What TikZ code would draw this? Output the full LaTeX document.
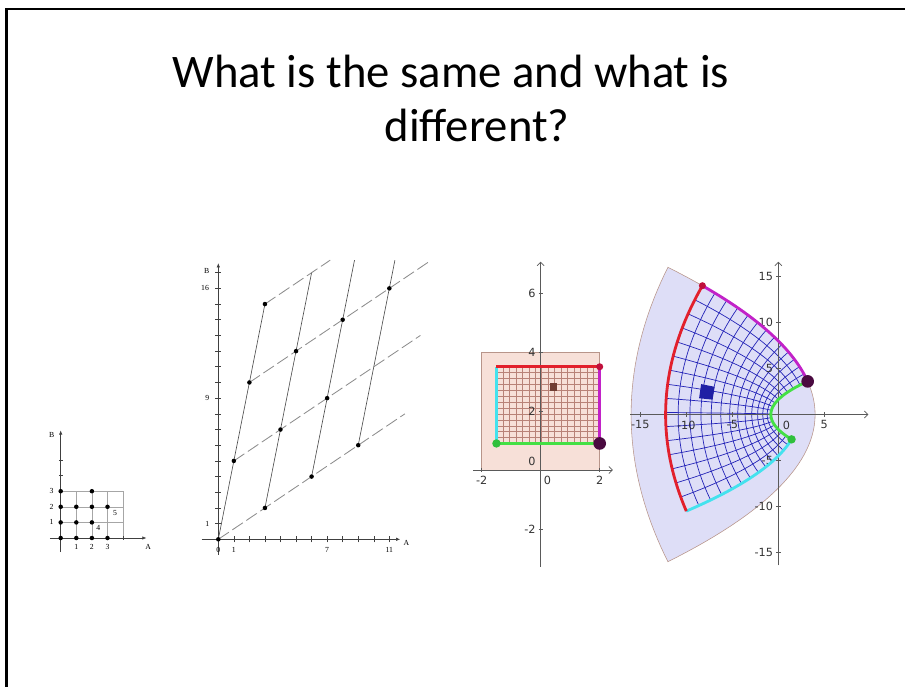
\documentclass[tikz,border=0pt]{standalone}
\usepackage{fontspec}
\setmainfont{Carlito}
\newfontfamily\plotserif{Liberation Serif}
\newfontfamily\ggbfont{DejaVu Sans}
\usetikzlibrary{arrows.meta}
\definecolor{RectPink}{HTML}{F7E0D8}
\definecolor{RegionLav}{HTML}{DEDEF7}
\definecolor{GridBrown}{HTML}{A0584A}
\definecolor{GridBlue}{HTML}{2424B8}
\definecolor{EdgeRed}{HTML}{E2202C}
\definecolor{EdgeCyan}{HTML}{44E2EE}
\definecolor{EdgeGreen}{HTML}{44E044}
\definecolor{EdgeMag}{HTML}{C222C8}
\definecolor{DotRed}{HTML}{C0103C}
\definecolor{DotPurple}{HTML}{4A0A40}
\definecolor{DotGreen}{HTML}{30C03C}
\definecolor{AxisGray}{HTML}{5A5A5A}
\definecolor{BorderBrown}{HTML}{B8958A}

\begin{document}
\begin{tikzpicture}[x=0.025cm,y=0.025cm,
  ax/.style={line width=0.5pt,black!75,-{Latex[length=3pt,width=2.5pt]}},
  tk/.style={line width=0.4pt,black!75},
  lab/.style={font=\plotserif\fontsize{5.5}{6}\selectfont,inner sep=0.5pt},
  ldot/.style={circle,fill=black,inner sep=0pt,minimum size=3.2pt},
  solidline/.style={line width=0.45pt,black!70},
  dashline/.style={line width=0.6pt,black!45,dash pattern=on 9pt off 3pt},
  ggbax/.style={line width=0.5pt,AxisGray,-{Straight Barb[length=2.5pt,width=5pt]}},
  ggbtk/.style={line width=0.5pt,AxisGray},
  ggblab/.style={font=\ggbfont\fontsize{8}{9}\selectfont,text=black!80,inner sep=1pt},
  brgrid/.style={line width=0.3pt,GridBrown!75},
  blgrid/.style={line width=0.5pt,GridBlue},
  rim/.style={line width=2pt},
  gdot/.style={circle,inner sep=0pt},
  titlefont/.style={font=\fontsize{33.2}{30}\selectfont}]
  \useasboundingbox (0,0) rectangle (905,686);
  % slide frame
  \draw[line width=1.5pt] (6.5,-2) -- (6.5,677) -- (907,677);
  % title
  \node[titlefont,anchor=base] (title1) at (451,598) {What is the same and what is};
  \node[titlefont,anchor=base] (title2) at (477,544) {different?};

  % small count grid
  \begin{scope}[shift={(60.7,148)},scale=15.6]
    \draw[black!35,line width=0.4pt,step=1] (0,0) grid (4,3);
    \draw[ax] (-0.7,0) -- (5.5,0);
    \draw[ax] (0,-0.9) -- (0,6.9);
    \foreach \i in {1,...,4} \draw[tk] (\i,-0.12) -- (\i,0.12);
    \foreach \j in {1,...,5} \draw[tk] (-0.12,\j) -- (0.12,\j);
    \foreach \i in {1,2,3} {
      \node[lab] (sx\i) at (\i,-0.56) {\i};
      \node[lab] (sy\i) at (-0.58,\i) {\i};
    }
    \node[lab] (sB) at (-0.58,6.6) {B};
    \node[lab] (sA) at (5.6,-0.56) {A};
    \node[lab] (s4) at (2.41,0.62) {4};
    \node[lab] (s5) at (3.48,1.58) {5};
    \foreach \p in {(0,0),(1,0),(2,0),(3,0),(0,1),(1,1),(2,1),
                    (0,2),(1,2),(2,2),(3,2),(0,3),(2,3)}
      \node[ldot] at \p {};
  \end{scope}

  % lattice spanned by (1,5) and (3,2)
  \begin{scope}[shift={(218.3,146.7)},xscale=15.55,yscale=15.69]
    \draw[ax] (-1.07,0) -- (11.7,0);
    \draw[ax] (0,-1) -- (0,17.6);
    \foreach \i in {1,...,11} \draw[tk] (\i,-0.2) -- (\i,0.2);
    \foreach \j in {1,...,17} \draw[tk] (-0.2,\j) -- (0.2,\j);
    \node[lab] (bx0) at (0,-0.68) {0};
    \node[lab] (bx1) at (1,-0.68) {1};
    \node[lab] (bx7) at (7,-0.68) {7};
    \node[lab] (bx11) at (11,-0.68) {11};
    \node[lab] (by1) at (-0.7,1) {1};
    \node[lab] (by9) at (-0.7,9) {9};
    \node[lab] (by16) at (-0.85,16) {16};
    \node[lab] (bB) at (-0.75,17.1) {B};
    \node[lab] (bA) at (12.1,-0.25) {A};
    \foreach \a in {0,...,3}
      \foreach \b in {0,...,3}
        \coordinate (p\a\b) at ({\a+3*\b},{5*\a+2*\b});
    \coordinate (s2) at (8.76,17.8);
    \coordinate (s3) at (11.36,17.8);
    \coordinate (d0) at (12,8);
    \coordinate (d1) at (13,13);
    \coordinate (d2) at (13.7,17.8);
    \coordinate (d3) at (7.2,17.8);
    \draw[solidline] (p00) -- (p30);
    \draw[solidline] (p01) -- (p31);
    \draw[solidline] (p02) -- (s2);
    \draw[solidline] (p03) -- (s3);
    \draw[dashline] (p00) -- (d0);
    \draw[dashline] (p10) -- (d1);
    \draw[dashline] (p20) -- (d2);
    \draw[dashline] (p30) -- (d3);
    \foreach \q in {p00,p10,p20,p30,p01,p11,p21,p02,p12,p22,p03,p23}
      \node[ldot] at (\q) {};
  \end{scope}

  % rectangle in the z-plane
  \begin{scope}[shift={(540.7,216)},scale=29.5]
    \filldraw[fill=RectPink,draw=BorderBrown,line width=0.4pt] (-2,0) rectangle (2,4);
    \foreach \k in {0,...,16}
      \draw[brgrid] ({-1.5+\k*0.21875},0.9) -- ({-1.5+\k*0.21875},3.5);
    \foreach \k in {0,...,13}
      \draw[brgrid] (-1.5,{0.9+\k*0.2}) -- (2,{0.9+\k*0.2});
    \draw[ggbax] (-2.29,0) -- (2.45,0);
    \draw[ggbax] (0,-3.28) -- (0,7.06);
    \foreach \i in {-2,2} \draw[ggbtk] (\i,-0.07) -- (\i,0.07);
    \foreach \j in {-2,2,4,6} \draw[ggbtk] (-0.07,\j) -- (0.07,\j);
    \node[ggblab,anchor=north] (zxm2) at (-2,-0.15) {-2};
    \node[ggblab,anchor=north west] (zx0) at (0.05,-0.15) {0};
    \node[ggblab,anchor=north] (zx2) at (2,-0.15) {2};
    \node[ggblab,anchor=east] (zym2) at (-0.12,-2) {-2};
    \node[ggblab,anchor=south east] (zy0) at (-0.12,0.1) {0};
    \node[ggblab,anchor=east] (zy2) at (-0.12,2) {2};
    \node[ggblab,anchor=east] (zy4) at (-0.12,4) {4};
    \node[ggblab,anchor=east] (zy6) at (-0.12,6) {6};
    \fill[GridBrown!70!black] (0.30,2.69) rectangle (0.56,2.95);
    \draw[rim,EdgeCyan] (-1.5,0.9) -- (-1.5,3.5);
    \draw[rim,EdgeGreen] (-1.5,0.9) -- (2,0.9);
    \draw[rim,EdgeMag] (2,0.9) -- (2,3.5);
    \draw[rim,EdgeRed] (-1.5,3.5) -- (2,3.5);
    \node[gdot,fill=DotRed,minimum size=5pt] (zA) at (2,3.5) {};
    \node[gdot,fill=DotGreen,minimum size=6pt] (zC) at (-1.5,0.9) {};
    \node[gdot,fill=DotPurple,minimum size=9pt] (zB) at (2,0.9) {};
  \end{scope}

  % its image under w = z^2
  \begin{scope}[shift={(778.3,271.5)},scale=9.2]
    \filldraw[fill=RegionLav,draw=BorderBrown,line width=0.4pt]
      plot[domain=-2:2,samples=40] ({(\x)*(\x)-16},{8*\x})
      -- plot[domain=4:0,samples=30] ({4-(\x)*(\x)},{4*\x})
      -- plot[domain=0:4,samples=30] ({4-(\x)*(\x)},{-4*\x}) -- cycle;
    \foreach \k in {0,...,13} {
      \pgfmathsetmacro\cy{0.9+\k*0.2}
      \draw[blgrid] plot[domain=-1.5:2,samples=30] ({(\x)*(\x)-(\cy)*(\cy)},{2*(\x)*(\cy)});
    }
    \foreach \k in {0,...,16} {
      \pgfmathsetmacro\cx{-1.5+\k*0.21875}
      \draw[blgrid] plot[domain=0.9:3.5,samples=25] ({(\cx)*(\cx)-(\x)*(\x)},{2*(\cx)*(\x)});
    }
    \draw[ggbax] (-16.1,0) -- (9.8,0);
    \draw[ggbax] (0,-16.4) -- (0,16.6);
    \foreach \i in {-15,-10,-5,5} \draw[ggbtk] (\i,-0.25) -- (\i,0.25);
    \foreach \j in {-15,-10,-5,5,10,15} \draw[ggbtk] (-0.25,\j) -- (0.25,\j);
    \node[ggblab,anchor=north] (wxm15) at (-15,-0.5) {-15};
    \node[ggblab,anchor=north] (wxm10) at (-10,-0.5) {-10};
    \node[ggblab,anchor=north] (wxm5) at (-5,-0.5) {-5};
    \node[ggblab,anchor=north west] (wx0) at (0.3,-0.5) {0};
    \node[ggblab,anchor=north] (wx5) at (5,-0.5) {5};
    \node[ggblab,anchor=east] (wym15) at (-0.4,-15) {-15};
    \node[ggblab,anchor=east] (wym10) at (-0.4,-10) {-10};
    \node[ggblab,anchor=east] (wym5) at (-0.4,-5) {-5};
    \node[ggblab,anchor=east] (wy5) at (-0.4,5) {5};
    \node[ggblab,anchor=east] (wy10) at (-0.4,10) {10};
    \node[ggblab,anchor=east] (wy15) at (-0.4,15) {15};
    \fill[GridBlue!90!black] (-7.146,1.614) -- (-6.9225,3.0128) -- (-8.3889,3.304) -- (-8.6125,1.77) -- cycle;
    \draw[rim,EdgeCyan] plot[domain=0.9:3.5,samples=30] ({2.25-(\x)*(\x)},{-3*\x});
    \draw[rim,EdgeGreen] plot[domain=-1.5:2,samples=30] ({(\x)*(\x)-0.81},{1.8*\x});
    \draw[rim,EdgeMag] plot[domain=0.9:3.5,samples=30] ({4-(\x)*(\x)},{4*\x});
    \draw[rim,EdgeRed] plot[domain=-1.5:2,samples=40] ({(\x)*(\x)-12.25},{7*\x});
    \node[gdot,fill=DotRed,minimum size=5pt] (wA) at (-8.25,14) {};
    \node[gdot,fill=DotGreen,minimum size=6pt] (wC) at (1.44,-2.7) {};
    \node[gdot,fill=DotPurple,minimum size=9pt] (wB) at (3.19,3.6) {};
  \end{scope}
\end{tikzpicture}
\end{document}
